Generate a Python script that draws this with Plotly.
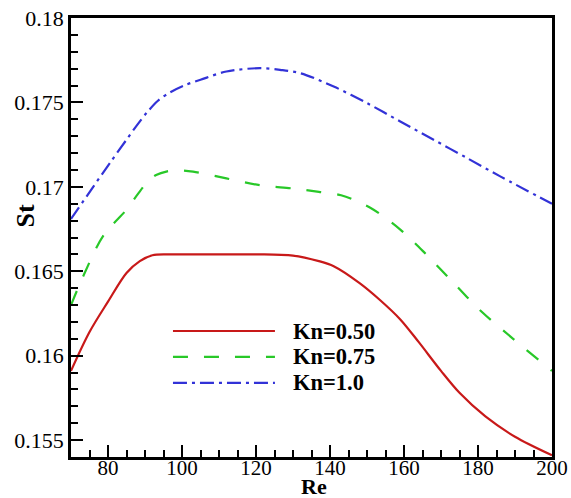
import plotly.graph_objects as go

# Data
re_050 = [70, 75, 80, 85, 88.6, 92, 96, 100, 110, 120, 130, 137, 141, 148, 153.5, 159, 164, 170, 175, 182, 190, 200]
st_050 = [0.1591, 0.1614, 0.1632, 0.1649, 0.1656, 0.16595, 0.16600, 0.1660, 0.1660, 0.1660, 0.16593, 0.1656,
          0.1653, 0.1643, 0.1633, 0.16215, 0.1608, 0.1591, 0.1578, 0.1564, 0.1552, 0.1541]

re_075 = [70, 73.3, 78.7, 85, 88, 90.5, 93, 96, 99, 103, 112, 121, 130, 137, 143, 151, 159, 166, 173, 181, 189.5, 200]
st_075 = [0.1630, 0.1647, 0.1671, 0.16865, 0.16955, 0.17025, 0.1707, 0.17092, 0.17098, 0.1709, 0.1705, 0.1701,
          0.1699, 0.1697, 0.1695, 0.16875, 0.16747, 0.1660, 0.1644, 0.1626, 0.1610, 0.1591]

re_100 = [70, 76, 80.5, 85, 88, 90.5, 93.5, 96.8, 100.5, 105, 112, 121, 126.5, 132, 141, 150, 159, 168, 177, 186, 200]
st_100 = [0.1681, 0.1700, 0.17141, 0.17279, 0.17370, 0.17440, 0.17510, 0.17560, 0.17600, 0.17634, 0.17683,
          0.17703, 0.17693, 0.17673, 0.17594, 0.17496, 0.17387, 0.17279, 0.17171, 0.17062, 0.1690]

names = ["Kn=0.50", "Kn=0.75", "Kn=1.0"]
colors = ["rgb(200,25,25)", "rgb(40,200,40)", "rgb(50,50,215)"]
dashes = ["solid", "15px,16px", "14px,5px,3px,5px"]

x_ticks = [80, 100, 120, 140, 160, 180, 200]
y_ticks = [0.155, 0.16, 0.165, 0.17, 0.175, 0.18]
y_labels = ["0.155", "0.16", "0.165", "0.17", "0.175", "0.18"]

FONT = "Times New Roman, Liberation Serif, DejaVu Serif, serif"

fig = go.Figure()
for xs, ys, n, c, d in zip([re_050, re_075, re_100], [st_050, st_075, st_100], names, colors, dashes):
    fig.add_trace(go.Scatter(x=xs, y=ys, mode="lines", name=n, showlegend=False,
                             line=dict(color=c, width=2.2, dash=d, shape="spline", smoothing=0.9)))

# Manual legend (long line samples as in the reference)
leg_y = [0.287, 0.228, 0.169]
for ly, n, c, d in zip(leg_y, names, colors, dashes):
    fig.add_shape(type="line", xref="paper", yref="paper", x0=0.212, x1=0.424, y0=ly, y1=ly,
                  line=dict(color=c, width=2.2, dash=d))
    fig.add_annotation(xref="paper", yref="paper", x=0.457, y=ly, text="<b>%s</b>" % n,
                       showarrow=False, xanchor="left", yanchor="middle",
                       font=dict(family=FONT, size=22.5, color="black"))

# Axis titles
fig.add_annotation(xref="paper", yref="paper", x=0, y=0.548, xshift=-46, text="<b>St</b>",
                   textangle=-90, showarrow=False, xanchor="center", yanchor="middle",
                   font=dict(family=FONT, size=26, color="black"))
fig.add_annotation(xref="paper", yref="paper", x=0.505, y=0, yshift=-29, text="<b>Re</b>",
                   showarrow=False, xanchor="center", yanchor="middle",
                   font=dict(family=FONT, size=22, color="black"))

fig.update_layout(
    width=571, height=498,
    margin=dict(l=71, r=19, t=18, b=41),
    paper_bgcolor="white", plot_bgcolor="white",
    font=dict(family=FONT, size=22, color="black"),
)
fig.update_xaxes(
    range=[70, 200], tickvals=x_ticks, ticktext=[str(v) for v in x_ticks], automargin=False,
    ticks="inside", ticklen=12, tickwidth=2, tickcolor="black", ticklabelstandoff=-10,
    minor=dict(dtick=5, ticks="inside", ticklen=7, tickwidth=1.5, tickcolor="black", showgrid=False),
    showline=True, linecolor="black", linewidth=2.5, mirror=True, showgrid=False, zeroline=False,
    tickfont=dict(family=FONT, size=21),
)
fig.update_yaxes(
    range=[0.154, 0.18], tickvals=y_ticks, ticktext=y_labels, automargin=False,
    ticks="inside", ticklen=12, tickwidth=2, tickcolor="black",
    minor=dict(dtick=0.001, tick0=0.154, ticks="inside", ticklen=7, tickwidth=1.5, tickcolor="black", showgrid=False),
    showline=True, linecolor="black", linewidth=2.5, mirror=True, showgrid=False, zeroline=False,
    tickfont=dict(family=FONT, size=22),
)

fig.write_html("out.html", config={"displayModeBar": False},
               post_script="document.body.style.margin='0';")
